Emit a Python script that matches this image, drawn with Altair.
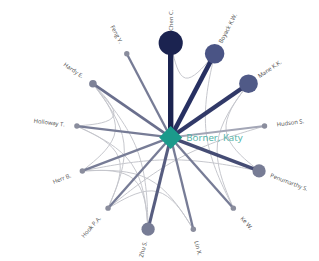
import math
import altair as alt
import pandas as pd

# ---- data -------------------------------------------------------------
center_name = "Börner, Katy"
names = ["Chen C.", "Boyack K.W.", "Mane K.K.", "Hudson S.", "Penumarthy S.",
         "Ke W.", "Lin X.", "Zhu S.", "Hook P.A.", "Herr B.", "Holloway T.",
         "Hardy E.", "Feng Y."]
pubs = [20, 13, 12, 1, 6, 1, 1, 6, 1, 1, 1, 2, 1]          # node size
coauth = [10, 8, 7, 1, 5, 2, 2, 4, 2, 2, 2, 3, 2]          # spoke weight
arc_from = [0, 1, 2, 2, 3, 4, 6, 6, 11, 11, 11, 11, 10, 9, 10]
arc_to   = [1, 5, 4, 5, 8, 9, 8, 9, 10, 9, 8, 7, 8, 7, 7]

# ---- layout (computed) ------------------------------------------------
n = len(names)
ang = [90 - i * 360.0 / n for i in range(n)]
xs = [math.cos(math.radians(a)) for a in ang]
ys = [math.sin(math.radians(a)) for a in ang]

nodes = pd.DataFrame({"name": names, "pubs": pubs, "w": coauth,
                      "x": xs, "y": ys, "cx": 0.0, "cy": 0.0})

lab_r = 1.13
lab_rows = []
for i in range(n):
    a = ang[i]
    right = math.cos(math.radians(a)) >= -1e-9
    rot = (-a) % 360 if right else (180 - a) % 360
    lab_rows.append({"name": names[i], "x": lab_r * xs[i], "y": lab_r * ys[i],
                     "rot": rot, "side": "r" if right else "l"})
labels = pd.DataFrame(lab_rows)

arc_rows = []
for k, (a, b) in enumerate(zip(arc_from, arc_to)):
    ax, ay, bx, by = xs[a], ys[a], xs[b], ys[b]
    cx, cy = 0.25 * (ax + bx), 0.25 * (ay + by)
    for o, (px, py) in enumerate([(ax, ay), (cx, cy), (bx, by)]):
        arc_rows.append({"e": k, "o": o, "x": px, "y": py})
arcs = pd.DataFrame(arc_rows)

center = pd.DataFrame({"name": [center_name], "x": [0.0], "y": [0.0]})

# ---- scales -----------------------------------------------------------
W, H = 311, 253
cxp, cyp, R = 167, 129.5, 97
xsc = alt.Scale(domain=[-cxp / R, (W - cxp) / R], nice=False, zero=False)
ysc = alt.Scale(domain=[(cyp - H) / R, cyp / R], nice=False, zero=False)
X = lambda f="x": alt.X(f"{f}:Q", scale=xsc, axis=None)
Y = lambda f="y": alt.Y(f"{f}:Q", scale=ysc, axis=None)

arc_layer = alt.Chart(arcs).mark_line(interpolate="basis", color="#c4c5cc",
                                      strokeWidth=1).encode(
    x=X(), y=Y(), detail="e:N", order="o:Q")

spokes = alt.Chart(nodes).mark_rule(opacity=1).encode(
    x=X("cx"), y=Y("cy"), x2="x:Q", y2="y:Q",
    strokeWidth=alt.StrokeWidth("w:Q", legend=None,
                                scale=alt.Scale(domain=[1, 10], range=[2, 5.5])),
    color=alt.Color("w:Q", legend=None,
                    scale=alt.Scale(domain=[1, 2, 3, 5, 8, 10],
                                    range=["#a3a6b6", "#777c96", "#6a6f8d",
                                           "#454c74", "#273062", "#1b2350"])))

node_layer = alt.Chart(nodes).mark_circle(opacity=1).encode(
    x=X(), y=Y(),
    size=alt.Size("pubs:Q", legend=None,
                  scale=alt.Scale(domain=[0, 20], range=[0, 615])),
    fill=alt.Fill("pubs:Q", legend=None,
                  scale=alt.Scale(domain=[1, 2, 6, 13, 20],
                                  range=["#8a8d9d", "#7e8298", "#777c95",
                                         "#4a5485", "#1b2350"])))

hub = alt.Chart(center).mark_point(shape="diamond", filled=True, opacity=1,
                                   size=560, color="#1b9a8b").encode(x=X(), y=Y())
hub_label = alt.Chart(center).mark_text(align="left", baseline="middle", dx=16,
                                        dy=1, fontSize=10, color="#4fb1a5",
                                        font="Open Sans").encode(
    x=X(), y=Y(), text="name:N")

lab_r_layer = alt.Chart(labels).transform_filter("datum.side == 'r'").mark_text(
    align="left", baseline="middle", fontSize=6, color="#4a4a4a",
    font="Open Sans").encode(x=X(), y=Y(), text="name:N",
                             angle=alt.Angle("rot:Q", scale=None))
lab_l_layer = alt.Chart(labels).transform_filter("datum.side == 'l'").mark_text(
    align="right", baseline="middle", fontSize=6, color="#4a4a4a",
    font="Open Sans").encode(x=X(), y=Y(), text="name:N",
                             angle=alt.Angle("rot:Q", scale=None))

chart = alt.layer(arc_layer, spokes, node_layer, hub, hub_label,
                  lab_r_layer, lab_l_layer).resolve_scale(
    color="independent", fill="independent").properties(
    width=W, height=H, padding=0, autosize="none",
    background="white").configure_view(stroke=None)

chart.save("out.html", embed_options={"renderer": "svg", "actions": False})
